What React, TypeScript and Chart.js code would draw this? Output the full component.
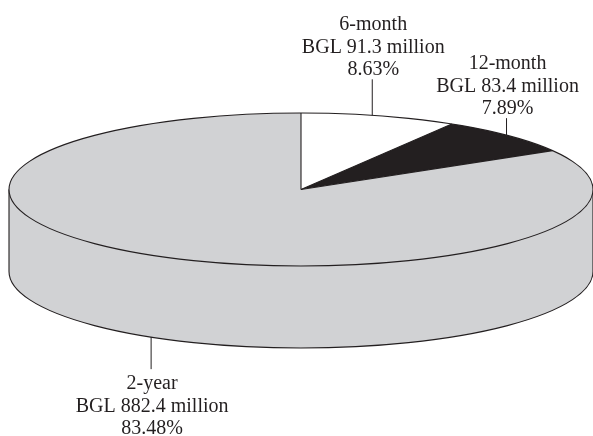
import React, { useEffect, useRef } from "react";
import { Chart, registerables } from "chart.js";

Chart.register(...registerables);

// ---- data ----
const categories = ["6-month", "12-month", "2-year"];
const values = [91.3, 83.4, 882.4];
const valueLabels = ["BGL 91.3 million", "BGL 83.4 million", "BGL 882.4 million"];
const percentLabels = ["8.63%", "7.89%", "83.48%"];

// ---- style ----
const sliceColors = ["#ffffff", "#231f20", "#d1d2d4"];
const leaderLengths = [36, 17, 32];
const leaderNudge = [-7, -2, -5];
const DEPTH = 82;
const INK = "#231f20";
const FONT = '20px "Liberation Serif", "Times New Roman", serif';
const LINE_GAP = 22.5;

const pie3d = {
  id: "pie3d",
  beforeDatasetsDraw(chart: any) {
    const { ctx, chartArea: a } = chart;
    const cx = (a.left + a.right) / 2;
    const cy = (a.top + a.bottom) / 2;
    const rx = (a.right - a.left) / 2;
    const ry = (a.bottom - a.top) / 2;
    const meta = chart.getDatasetMeta(0);
    // side walls (visible front half: angles 0..PI)
    meta.data.forEach((arc: any, i: number) => {
      const s = Math.max(arc.startAngle, 0);
      const e = Math.min(arc.endAngle, Math.PI);
      if (e <= s) return;
      ctx.save();
      ctx.beginPath();
      ctx.ellipse(cx, cy, rx, ry, 0, s, e);
      ctx.ellipse(cx, cy + DEPTH, rx, ry, 0, e, s, true);
      ctx.closePath();
      ctx.fillStyle = sliceColors[i];
      ctx.fill();
      ctx.restore();
    });
    // side outline
    ctx.save();
    ctx.beginPath();
    ctx.moveTo(cx + rx, cy);
    ctx.ellipse(cx, cy + DEPTH, rx, ry, 0, 0, Math.PI);
    ctx.lineTo(cx - rx, cy);
    ctx.lineWidth = 1.1;
    ctx.strokeStyle = INK;
    ctx.stroke();
    ctx.restore();
    // stretch the circular pie into the top ellipse
    const arc0 = meta.data[0];
    const R = arc0.outerRadius;
    ctx.save();
    ctx.translate(cx, cy);
    ctx.scale(rx / R, ry / R);
    ctx.translate(-arc0.x, -arc0.y);
  },
  afterDatasetsDraw(chart: any) {
    const { ctx, chartArea: a } = chart;
    ctx.restore();
    const cx = (a.left + a.right) / 2;
    const cy = (a.top + a.bottom) / 2;
    const rx = (a.right - a.left) / 2;
    const ry = (a.bottom - a.top) / 2;
    const meta = chart.getDatasetMeta(0);
    ctx.save();
    ctx.strokeStyle = INK;
    ctx.lineWidth = 1.1;
    // top outline
    ctx.beginPath();
    ctx.ellipse(cx, cy, rx, ry, 0, 0, Math.PI * 2);
    ctx.stroke();
    // radial edges
    meta.data.forEach((arc: any) => {
      ctx.beginPath();
      ctx.moveTo(cx, cy);
      ctx.lineTo(cx + rx * Math.cos(arc.startAngle), cy + ry * Math.sin(arc.startAngle));
      ctx.stroke();
    });
    // leaders and labels
    ctx.font = FONT;
    ctx.fillStyle = INK;
    ctx.textAlign = "center";
    ctx.textBaseline = "alphabetic";
    ctx.lineWidth = 1;
    meta.data.forEach((arc: any, i: number) => {
      const mid = (arc.startAngle + arc.endAngle) / 2;
      const px = cx + rx * Math.cos(mid) + leaderNudge[i];
      const t = (px - cx) / rx;
      const h = ry * Math.sqrt(Math.max(0, 1 - t * t));
      const lines = [categories[i], valueLabels[i], percentLabels[i]];
      ctx.beginPath();
      if (Math.sin(mid) < 0) {
        const ey = cy - h;
        const top = ey - leaderLengths[i];
        ctx.moveTo(px, ey);
        ctx.lineTo(px, top);
        ctx.stroke();
        const lastBase = top - 4;
        lines.forEach((l, k) => {
          ctx.fillText(l, px + 1, lastBase - (lines.length - 1 - k) * LINE_GAP);
        });
      } else {
        const ey = cy + DEPTH + h;
        const bot = ey + leaderLengths[i];
        ctx.moveTo(px, ey);
        ctx.lineTo(px, bot);
        ctx.stroke();
        const firstBase = bot + 20;
        lines.forEach((l, k) => {
          ctx.fillText(l, px + 1, firstBase + k * LINE_GAP);
        });
      }
    });
    ctx.restore();
  },
};

export default function App() {
  const ref = useRef<HTMLCanvasElement | null>(null);
  useEffect(() => {
    if (!ref.current) return;
    const chart = new Chart(ref.current, {
      type: "pie",
      data: {
        labels: categories,
        datasets: [
          {
            data: values,
            backgroundColor: sliceColors,
            borderWidth: 0,
            hoverOffset: 0,
          },
        ],
      },
      options: {
        animation: false,
        responsive: true,
        maintainAspectRatio: false,
        layout: { padding: { left: 9, right: 0, top: 113, bottom: 170 } },
        plugins: { legend: { display: false }, tooltip: { enabled: false } },
        events: [],
      },
      plugins: [pie3d],
    });
    return () => chart.destroy();
  }, []);
  return (
    <div style={{ position: "fixed", left: 0, top: 0, width: 593, height: 436, background: "#fff" }}>
      <canvas ref={ref} />
    </div>
  );
}
